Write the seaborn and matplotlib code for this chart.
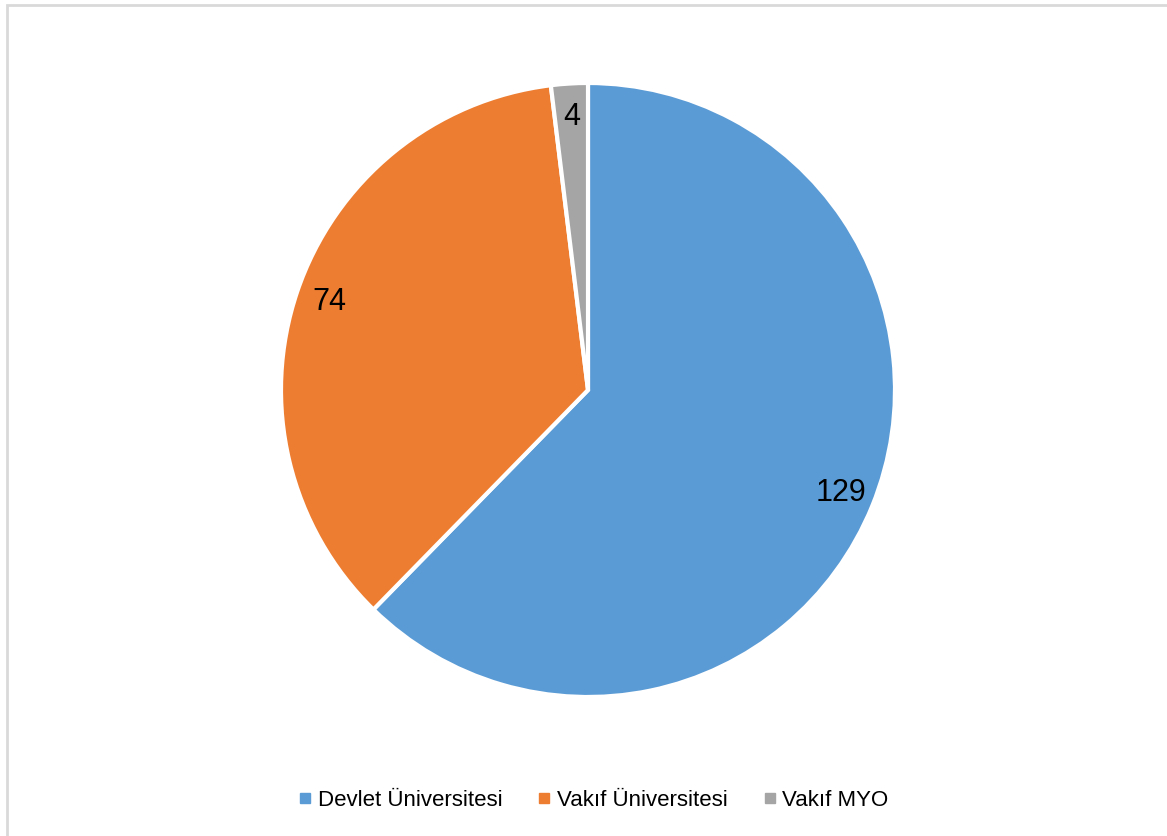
import matplotlib.pyplot as plt
import seaborn as sns
from matplotlib.patches import Rectangle
from matplotlib.lines import Line2D

categories = ['Devlet Üniversitesi', 'Vakıf Üniversitesi', 'Vakıf MYO']
counts = [129, 74, 4]
colors = ['#5B9BD5', '#ED7D31', '#A5A5A5']

sns.set_theme(style='white')
plt.rcParams['font.family'] = ['Liberation Sans', 'DejaVu Sans']

fig = plt.figure(figsize=(11.67, 8.36), dpi=100)
ax = fig.add_axes([(588 - 307) / 1167, 1 - (390 + 307) / 836, 614 / 1167, 614 / 836])

total = sum(counts)
wedges, texts, autotexts = ax.pie(
    counts, colors=colors, startangle=90, counterclock=False,
    autopct=lambda p: f'{round(p * total / 100):d}', pctdistance=0.89,
    wedgeprops=dict(edgecolor='white', linewidth=3),
    textprops=dict(fontsize=22, color='black'))
ax.set_xlim(-1.0, 1.0)
ax.set_ylim(-1.0, 1.0)
ax.set_aspect('equal')

# frame around the chart area
fig.patches.append(Rectangle((7 / 1167, -0.1), 1.2, 1 - 5 / 836 + 0.1,
                             transform=fig.transFigure, fill=False,
                             edgecolor='#D9D9D9', linewidth=2))

handles = [Line2D([], [], marker='s', linestyle='', markersize=7,
                  markerfacecolor=c, markeredgecolor=c) for c in colors]
fig.legend(handles, categories, loc='center', bbox_to_anchor=(0.507, 1 - 800 / 836),
           ncol=3, frameon=False, fontsize=16, handletextpad=0.1,
           columnspacing=1.45, handlelength=0.9, labelcolor='black')

fig.savefig('out.png', dpi=100)
